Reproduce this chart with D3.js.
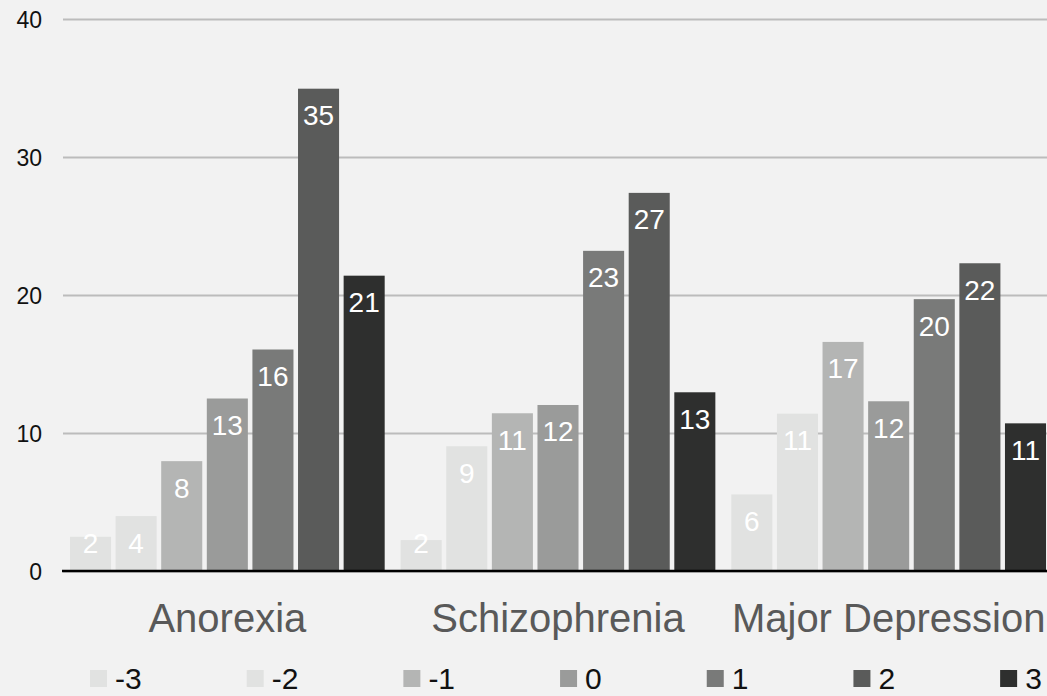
<!DOCTYPE html>
<html>
<head>
<meta charset="utf-8">
<script src="https://cdn.jsdelivr.net/npm/d3@7"></script>
<style>
  body { margin: 0; background: #f2f2f2; }
  svg { display: block; font-family: "Helvetica Neue", Helvetica, "Liberation Sans", Arial, sans-serif; }
</style>
</head>
<body>
<div class="holder"></div>
<script>
const w = 1047;
const h = 696;

// data
const categories = ["Anorexia", "Schizophrenia", "Major Depression"];
const seriesNames = ["-3", "-2", "-1", "0", "1", "2", "3"];
const anorexia = [2.48, 3.98, 7.96, 12.5, 16.05, 34.95, 21.4];
const schizophrenia = [2.24, 9.04, 11.43, 12.03, 23.2, 27.4, 12.95];
const majorDepression = [5.55, 11.4, 16.6, 12.3, 19.7, 22.3, 10.7];
const yTicks = [0, 10, 20, 30, 40];

const colors = ["#e1e2e1", "#e1e2e1", "#b4b5b4", "#9a9b9a", "#797a79", "#5a5b5a", "#2e2f2e"];

const groups = [anorexia, schizophrenia, majorDepression].map((vals, i) => ({
  category: categories[i],
  values: vals.map((v, j) => ({ series: seriesNames[j], value: v }))
}));

const svg = d3.select(".holder")
  .append("svg")
  .attr("width", w)
  .attr("height", h);

svg.append("rect")
  .attr("width", w)
  .attr("height", h)
  .attr("fill", "#f2f2f2");

// scales
const x0 = d3.scaleBand()
  .domain(categories)
  .range([62, 1054]);

const x1 = d3.scaleBand()
  .domain(seriesNames)
  .range([0, x0.bandwidth()])
  .paddingInner(0.1)
  .paddingOuter(0.175);

const y = d3.scaleLinear()
  .domain([0, 40])
  .range([571, 19]);

const color = d3.scaleOrdinal().domain(seriesNames).range(colors);

// y axis + gridlines
const yAxis = svg.append("g")
  .attr("transform", "translate(63,0)")
  .call(d3.axisLeft(y).tickValues(yTicks).tickSize(-(w - 63)).tickPadding(21));

yAxis.select(".domain").remove();
yAxis.selectAll(".tick line")
  .attr("stroke", "#bcbcbc")
  .attr("stroke-width", 2);
yAxis.selectAll(".tick text")
  .attr("fill", "#111")
  .attr("font-size", 23)
  .attr("dy", "0.36em")
  .style("font-family", "inherit");

// bars
const g = svg.selectAll(".group")
  .data(groups)
  .enter()
  .append("g")
  .attr("class", "group")
  .attr("transform", d => `translate(${x0(d.category)},0)`);

g.selectAll("rect")
  .data(d => d.values)
  .enter()
  .append("rect")
  .attr("x", d => x1(d.series))
  .attr("y", d => y(d.value))
  .attr("width", x1.bandwidth())
  .attr("height", d => y(0) - y(d.value))
  .attr("fill", d => color(d.series));

g.selectAll(".label")
  .data(d => d.values)
  .enter()
  .append("text")
  .attr("class", "label")
  .attr("x", d => x1(d.series) + x1.bandwidth() / 2)
  .attr("y", d => Math.min(y(d.value) + 36.5, y(0) - 18))
  .attr("text-anchor", "middle")
  .attr("font-size", 28)
  .attr("fill", "#fff")
  .text(d => Math.round(d.value));

// zero line
svg.append("line")
  .attr("x1", 62)
  .attr("x2", w)
  .attr("y1", y(0))
  .attr("y2", y(0))
  .attr("stroke", "#000")
  .attr("stroke-width", 2.5);

// category labels
svg.selectAll(".cat")
  .data(categories)
  .enter()
  .append("text")
  .attr("class", "cat")
  .attr("x", d => x0(d) + x0.bandwidth() / 2)
  .attr("y", 632)
  .attr("text-anchor", "middle")
  .attr("font-size", 40)
  .attr("fill", "#595959")
  .text(d => d);

// legend
const legend = svg.append("g");
let lx = 90;
seriesNames.forEach(s => {
  const item = legend.append("g").attr("transform", `translate(${lx},0)`);
  item.append("rect")
    .attr("x", 0)
    .attr("y", 670)
    .attr("width", 17)
    .attr("height", 17)
    .attr("fill", color(s));
  const t = item.append("text")
    .attr("x", 25)
    .attr("y", 689)
    .attr("font-size", 30)
    .attr("fill", "#111")
    .text(s);
  lx += 25 + t.node().getComputedTextLength() + 105;
});
</script>
</body>
</html>
